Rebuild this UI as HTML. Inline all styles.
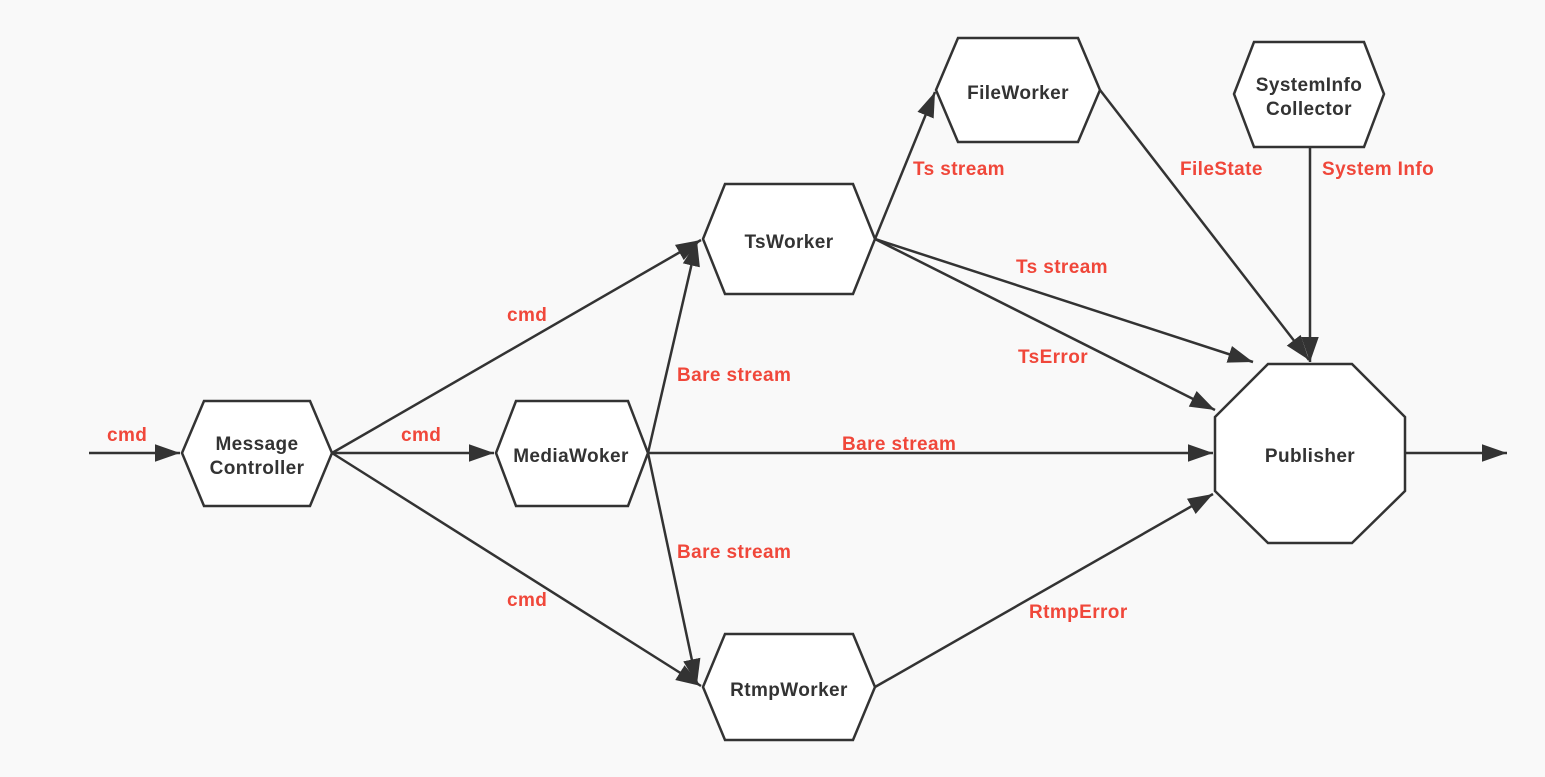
<!DOCTYPE html>
<html><head><meta charset="utf-8"><style>
html,body{margin:0;padding:0;background:#f9f9f9;}
svg{display:block;}
text{font-family:"Liberation Sans",sans-serif;font-weight:bold;font-size:19px;letter-spacing:0.4px;}
.n{fill:#333;text-anchor:middle;}
.l{fill:#f0473a;}
</style></head><body>
<svg width="1545" height="777" viewBox="0 0 1545 777">
<defs>
<marker id="b" viewBox="0 0 10 10" refX="10" refY="5" markerWidth="10" markerHeight="10" orient="auto"><path d="M0,1.5L10,5L0,8.5z" fill="#333"/></marker></defs>
<g stroke="#333" stroke-width="2.5" fill="none" marker-end="url(#b)">
<line x1="89" y1="453" x2="180" y2="453"/>
<line x1="1405" y1="453" x2="1507" y2="453"/>
<line x1="332" y1="453" x2="494" y2="453"/>
<line x1="332" y1="453" x2="701" y2="240"/>
<line x1="332" y1="453" x2="701" y2="686"/>
<line x1="648" y1="453" x2="697" y2="241"/>
<line x1="648" y1="453" x2="697" y2="684"/>
<line x1="648" y1="453" x2="1213" y2="453"/>
<line x1="875" y1="239" x2="935" y2="92"/>
<line x1="875" y1="239" x2="1253" y2="362"/>
<line x1="875" y1="239" x2="1215" y2="410"/>
<line x1="875" y1="687" x2="1213" y2="494"/>
<line x1="1100" y1="90" x2="1309" y2="360"/>
<line x1="1310" y1="147" x2="1310" y2="362"/>
</g>
<g stroke="#333" stroke-width="2.5" fill="#fff">
<polygon points="182,453 204,401 310,401 332,453 310,506 204,506"/>
<polygon points="496,453 516,401 628,401 648,453 628,506 516,506"/>
<polygon points="703,239 725,184 853,184 875,239 853,294 725,294"/>
<polygon points="703,687 725,634 853,634 875,687 853,740 725,740"/>
<polygon points="936,90 958,38 1078,38 1100,90 1078,142 958,142"/>
<polygon points="1234,94 1254,42 1364,42 1384,94 1364,147 1254,147"/>
<polygon points="1268,364 1352,364 1405,417 1405,491 1352,543 1268,543 1215,491 1215,417"/>
</g>
<text class="n" x="257" y="450">Message</text>
<text class="n" x="257" y="474">Controller</text>
<text class="n" x="571" y="462">MediaWoker</text>
<text class="n" x="789" y="248">TsWorker</text>
<text class="n" x="789" y="696">RtmpWorker</text>
<text class="n" x="1018" y="99">FileWorker</text>
<text class="n" x="1309" y="91">SystemInfo</text>
<text class="n" x="1309" y="115">Collector</text>
<text class="n" x="1310" y="462">Publisher</text>
<text class="l" x="107" y="441">cmd</text>
<text class="l" x="401" y="441">cmd</text>
<text class="l" x="507" y="321">cmd</text>
<text class="l" x="507" y="606">cmd</text>
<text class="l" x="677" y="381">Bare stream</text>
<text class="l" x="677" y="558">Bare stream</text>
<text class="l" x="842" y="450">Bare stream</text>
<text class="l" x="913" y="175">Ts stream</text>
<text class="l" x="1016" y="273">Ts stream</text>
<text class="l" x="1018" y="363">TsError</text>
<text class="l" x="1029" y="618">RtmpError</text>
<text class="l" x="1180" y="175">FileState</text>
<text class="l" x="1322" y="175">System Info</text>
</svg>
</body></html>
